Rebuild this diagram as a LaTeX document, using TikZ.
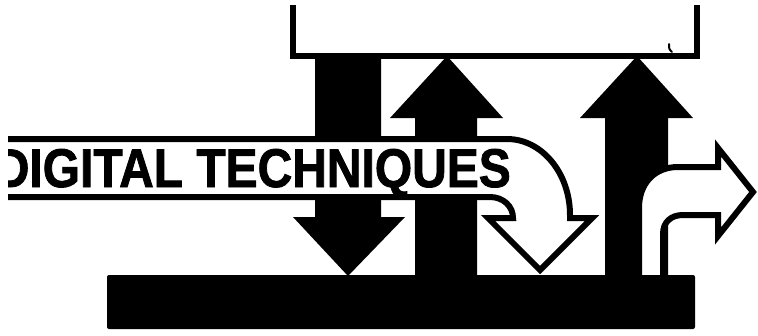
\documentclass[tikz,border=0pt]{standalone}
\usepackage{fontspec}
\setmainfont{Liberation Sans}
\newfontfamily\bandfont[FakeBold=1.6]{Liberation Sans Bold}
\tikzset{
  boxline/.style={line width=6pt, line join=miter, line cap=butt},
  outline/.style={line width=6pt, line join=miter, line cap=butt, draw=black},
  solidarrow/.style={fill=black},
  whitefill/.style={fill=white}
}
\begin{document}
\begin{tikzpicture}[x=1pt,y=-1pt]
\useasboundingbox[fill=white] (0,0) rectangle (758,335);

% open top box
\draw[boxline] (293,5) -- (293,56) -- (696.5,56) -- (696.5,5);
\draw[line width=2pt, line cap=round] (669,44) .. controls (669,49) .. (672,52);

% black down arrow
\fill[solidarrow] (315,57) -- (381,57) -- (381,217) -- (405,217) -- (348,276) -- (293,217) -- (315,217) -- cycle;
% black up arrow 1
\fill[solidarrow] (447,56) -- (503,118) -- (477,118) -- (477,276) -- (415,276) -- (415,118) -- (390,118) -- cycle;
% black up arrow 2
\fill[solidarrow] (637,56) -- (693,118) -- (668,118) -- (668,276) -- (605,276) -- (605,118) -- (580,118) -- cycle;

% band turning down into an outlined arrow
\path[whitefill] (8,139) -- (507,139) .. controls (541.8,139) and (570,173) .. (570,215)
  -- (570,218) -- (592,218) -- (540,270) -- (488,218) -- (513,218)
  .. controls (513,206) and (503,197) .. (490,197) -- (8,197) -- cycle;
\begin{scope}
  \clip (8,140) rectangle (560,196);
  \node[anchor=base east, inner sep=0pt, font=\bandfont\fontsize{54.5}{60}\selectfont] (title) at (511,187) {\scalebox{0.88}[1]{DIGITAL TECHNIQUES}};
\end{scope}
\draw[outline] (8,139) -- (507,139) .. controls (541.8,139) and (570,173) .. (570,215)
  -- (570,218) -- (592,218) -- (540,270) -- (488,218) -- (513,218)
  .. controls (513,206) and (503,197) .. (490,197) -- (8,197);

% outlined right-turn arrow
\path[whitefill] (639,278) -- (639,208) .. controls (639,183) and (655,167) .. (678,167)
  -- (718,167) -- (718,148) -- (753,192) -- (718,236) -- (718,215) -- (683,215)
  .. controls (671,215) and (663,222) .. (663,234) -- (663,278) -- cycle;
\draw[outline] (639,278) -- (639,208) .. controls (639,183) and (655,167) .. (678,167)
  -- (718,167) -- (718,148) -- (753,192) -- (718,236) -- (718,215) -- (683,215)
  .. controls (671,215) and (663,222) .. (663,234) -- (663,278);

% bottom bar
\fill[rounded corners=2pt] (107,275) rectangle (695,329);
\end{tikzpicture}
\end{document}
